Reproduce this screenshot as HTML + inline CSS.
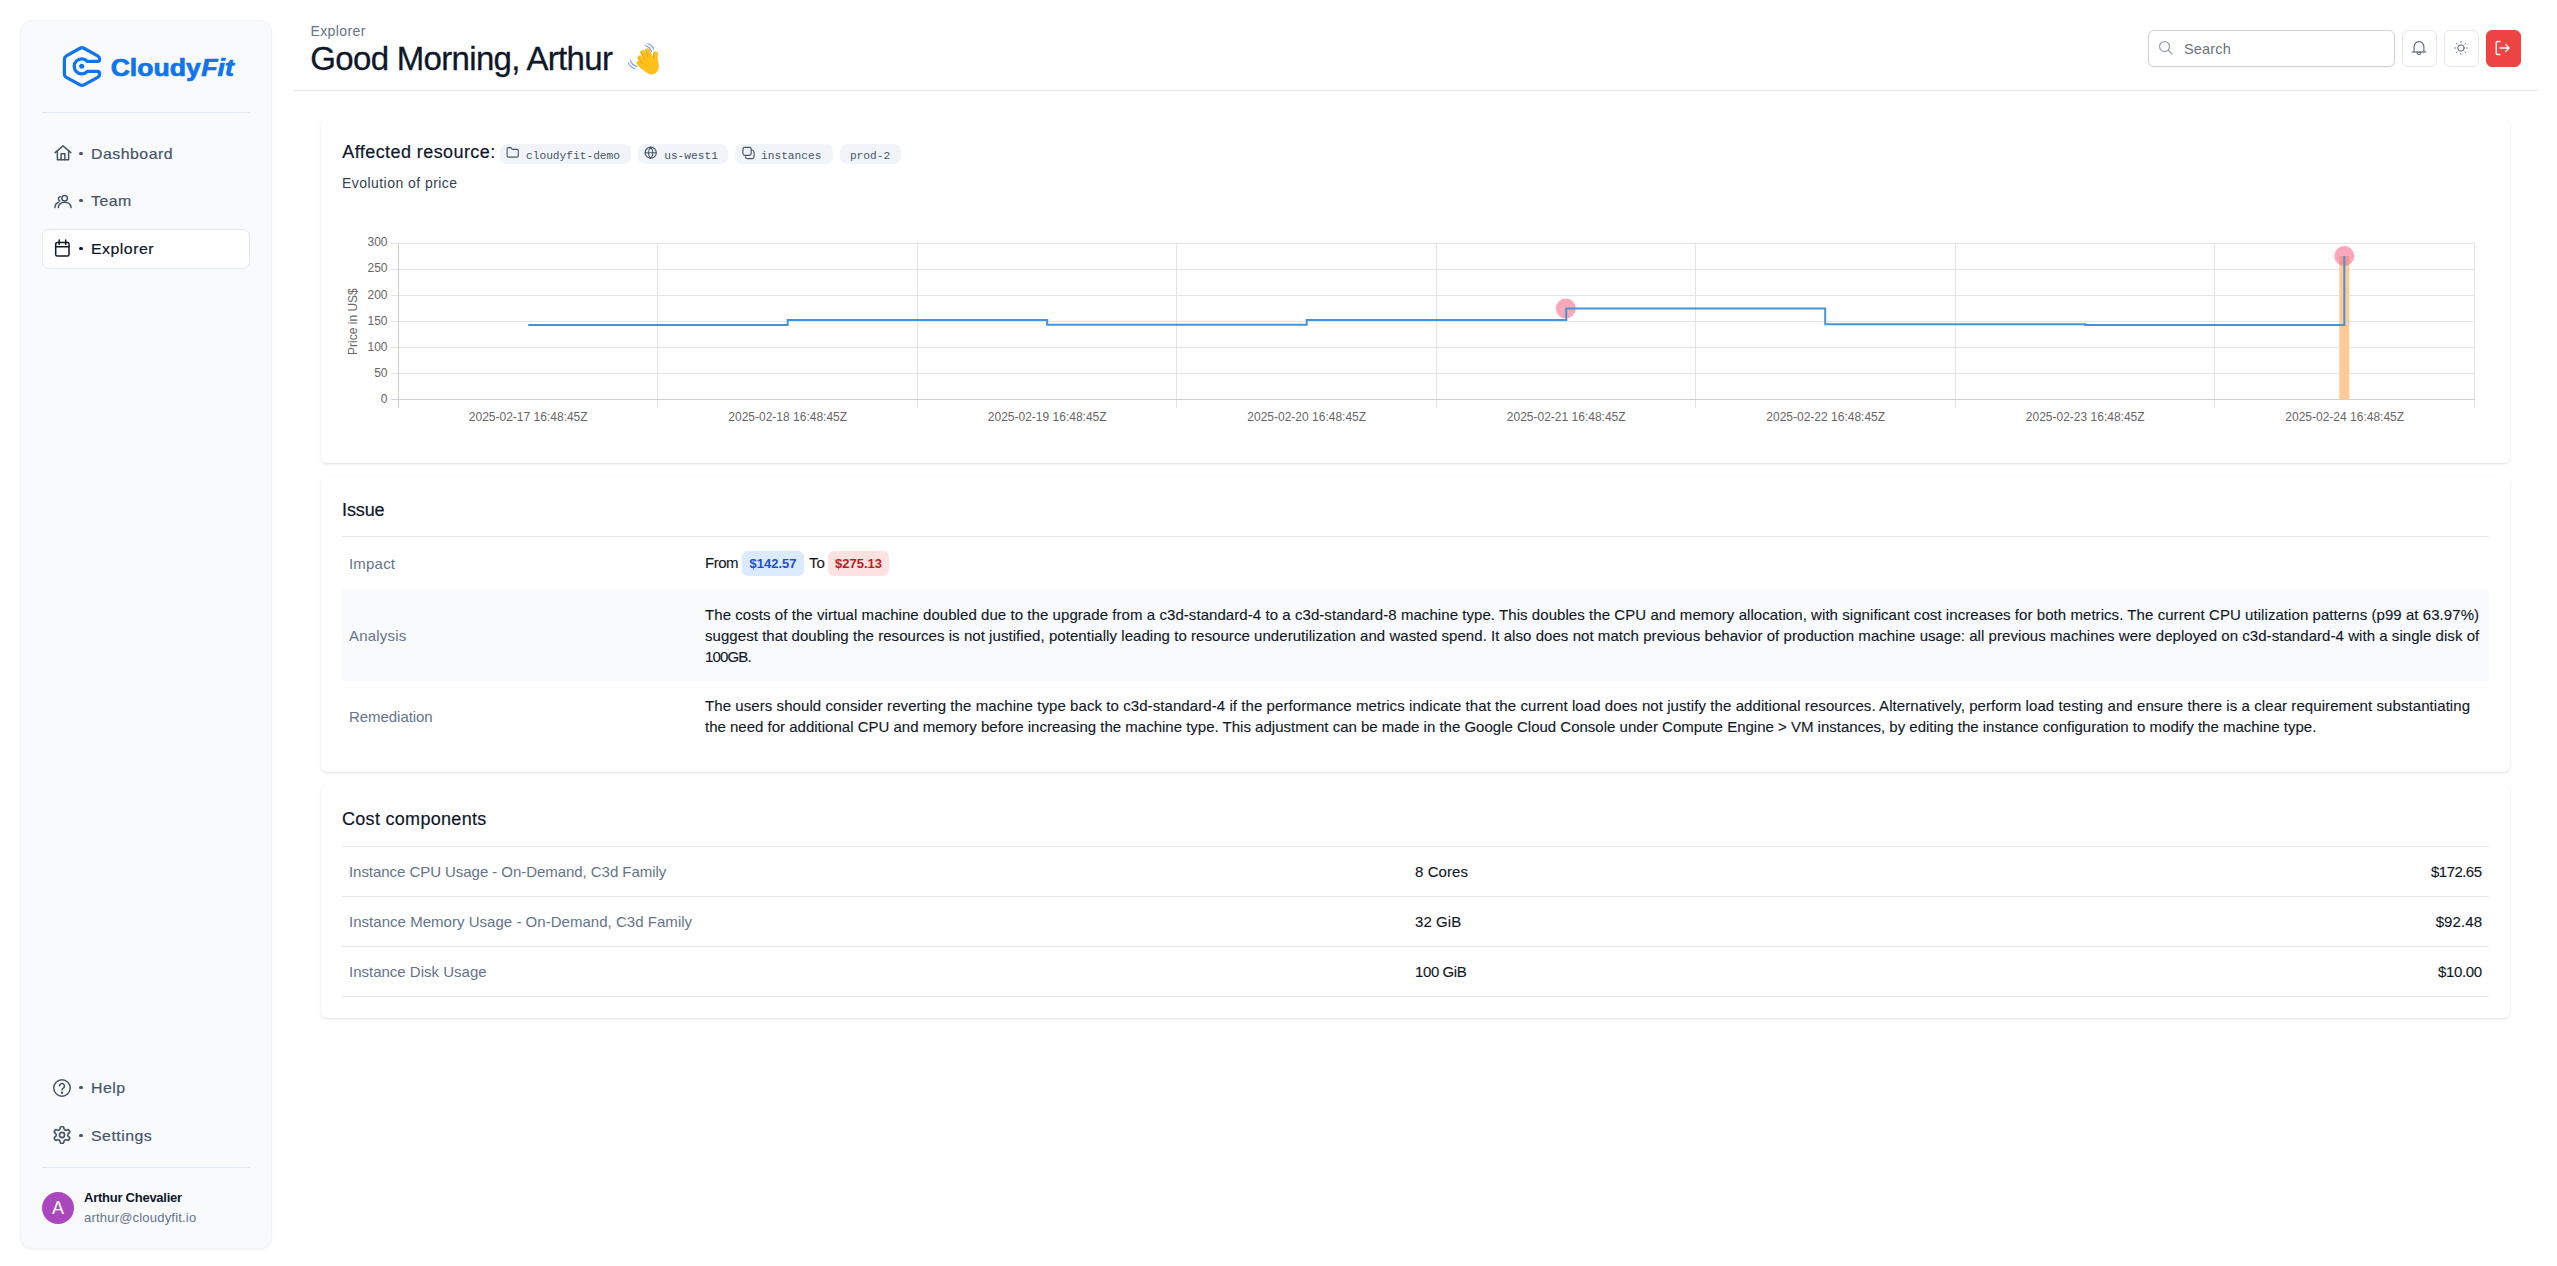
<!DOCTYPE html>
<html lang="en">
<head>
<meta charset="utf-8">
<title>CloudyFit - Explorer</title>
<style>
*{box-sizing:border-box;margin:0;padding:0}
html,body{width:2557px;height:1266px;overflow:hidden;background:#fff}
body{font-family:"Liberation Sans",Arial,sans-serif;color:#0f172a;position:relative;-webkit-font-smoothing:antialiased}
.abs{position:absolute;white-space:nowrap}
/* sidebar */
#side{position:absolute;left:20px;top:20px;width:252px;height:1229px;background:#f8fafc;border:1px solid #f1f5f9;border-radius:12px;box-shadow:0 1px 2px rgba(0,0,0,.04)}
.hr{position:absolute;height:1px;background:#e2e8f0}
.nav{position:absolute;left:42px;width:208px;height:40px;border-radius:7px;border:1px solid transparent;color:#475569;font-size:15px;letter-spacing:.45px}
.nav.on{background:#fff;border-color:#e2e8f0;color:#0f172a}
.nav svg{position:absolute;left:10.600px;top:9.500px;width:18px;height:18px}
.nav i{position:absolute;left:36.200px;top:16.700px;width:3.600px;height:3.600px;border-radius:50%;background:currentColor}
.nav span{position:absolute;left:48px;top:0;line-height:37px;display:inline-block;transform:scaleX(1.06);transform-origin:0 50%;-webkit-text-stroke:.2px currentColor}
/* header */
.ibtn{position:absolute;top:30px;width:35px;height:37px;border:1px solid #e5e7eb;border-radius:6px;background:#fff}
.ibtn svg{position:absolute;left:7.400px;top:8.300px;width:16px;height:16px}
/* cards */
.card{position:absolute;left:321px;width:2189px;background:#fff;border-radius:6px;box-shadow:0 1px 3px 0 rgba(0,0,0,.1),0 1px 2px -1px rgba(0,0,0,.1)}
.h2{font-size:18px;color:#0f172a;-webkit-text-stroke:.2px #0f172a}
.tag{position:absolute;top:144px;height:20px;border-radius:7px;background:#f1f5f9;color:#475569;font:11.200px/20px "Liberation Mono","DejaVu Sans Mono",monospace}
.tag svg{position:absolute;left:6px;top:2px;width:13.400px;height:13.400px}
.tag span{position:absolute;top:1.600px;white-space:nowrap}
.lbl{color:#64748b;font-size:15px;letter-spacing:.2px}
.txt{-webkit-text-stroke:.12px #111827;color:#111827;font-size:15px;line-height:21px;letter-spacing:.062px}
.pill{position:absolute;top:551px;height:25px;border-radius:6px;font-weight:bold;font-size:13px;line-height:25px;text-align:center}
</style>
</head>
<body>

<!-- ================= SIDEBAR ================= -->
<div id="side"></div>
<svg class="abs" style="left:56px;top:38px" width="190" height="56" viewBox="56 38 190 56">
  <path d="M87.31 61.37L97.40 61.37Q99.60 61.37 99.60 59.17L99.60 59.10Q99.60 56.90 97.67 55.84L83.93 48.26Q82.00 47.20 80.07 48.26L66.33 55.84Q64.40 56.90 64.40 59.10L64.40 74.10Q64.40 76.30 66.33 77.36L80.07 84.94Q82.00 86.00 83.93 84.94L97.67 77.36Q99.60 76.30 99.60 74.10L99.60 73.53Q99.60 71.33 97.40 71.33L87.31 71.33A7.5 7.5 0 1 1 87.31 61.37Z" fill="none" stroke="#1074ec" stroke-width="3.250" stroke-linejoin="round"/>
  <circle cx="81.700" cy="66.350" r="2.500" fill="#1074ec"/>
  <g font-family="Liberation Sans, Arial, sans-serif" font-weight="bold" font-size="23.200" fill="#1074ec" stroke="#1074ec" stroke-width=".7" stroke-linejoin="round">
    <text y="75.700"><tspan x="110.700" textLength="90" lengthAdjust="spacingAndGlyphs">Cloudy</tspan><tspan x="201.300" font-style="italic" textLength="32.600" lengthAdjust="spacingAndGlyphs">Fit</tspan></text>
  </g>
</svg>
<div class="hr" style="left:42px;top:112px;width:208px"></div>

<div class="nav" style="top:134px">
  <svg style="top:8.500px;left:10.900px" viewBox="0 0 24 24" fill="none" stroke="currentColor" stroke-width="2" stroke-linecap="round" stroke-linejoin="round"><path d="M1.5 11.5 12 2.5l10.500 9"/><path d="M4.500 9.500V21h15V9.500"/><path d="M9.500 21v-8h5v8"/></svg>
  <i></i><span>Dashboard</span>
</div>
<div class="nav" style="top:181px">
  <svg style="top:9.800px;left:11px" viewBox="0 0 24 24" fill="none" stroke="currentColor" stroke-width="2" stroke-linecap="round" stroke-linejoin="round"><circle cx="14.200" cy="8.200" r="3.700"/><path d="M5.800 20.800c0-4.300 3.600-7.300 8.400-7.300s8.500 3 8.500 7.300"/><path d="M8.300 6.300a3 3 0 0 0-.6 5.700"/><path d="M1.300 20.500c0-3.300 1.800-5.800 4.700-6.900"/></svg>
  <i></i><span>Team</span>
</div>
<div class="nav on" style="top:229px">
  <svg style="left:11px;top:8px;width:18px;height:20px" viewBox="0 0 18 20" fill="none" stroke="currentColor" stroke-width="1.500" stroke-linecap="round" stroke-linejoin="round"><rect x="1.700" y="4.400" width="13.300" height="13.650" rx="1.600"/><path d="M1.700 8.700h13.300M5.200 1.900v4.600M11.700 1.900v4.600"/></svg>
  <i></i><span>Explorer</span>
</div>

<div class="nav" style="top:1068px">
  <svg style="left:10.200px" viewBox="0 0 24 24" fill="none" stroke="currentColor" stroke-width="2" stroke-linecap="round" stroke-linejoin="round"><circle cx="12" cy="12" r="11"/><path d="M8.700 9.300a3.300 3.300 0 1 1 5 2.800c-1.100 .7-1.700 1.400-1.700 2.700"/><circle cx="12" cy="18.300" r=".7" fill="currentColor"/></svg>
  <i></i><span>Help</span>
</div>
<div class="nav" style="top:1116px">
  <svg style="left:10.300px;top:8.500px" viewBox="0 0 24 24" fill="none" stroke="currentColor" stroke-width="2" stroke-linecap="round" stroke-linejoin="round"><g transform="translate(12 12) scale(1.130) translate(-12 -12)"><path d="M12.220 2h-.440a2 2 0 0 0-2 2v.180a2 2 0 0 1-1 1.730l-.430.250a2 2 0 0 1-2 0l-.150-.080a2 2 0 0 0-2.730.730l-.220.380a2 2 0 0 0 .730 2.730l.150.100a2 2 0 0 1 1 1.720v.510a2 2 0 0 1-1 1.740l-.150.090a2 2 0 0 0-.730 2.730l.220.380a2 2 0 0 0 2.730.730l.150-.080a2 2 0 0 1 2 0l.430.250a2 2 0 0 1 1 1.730V20a2 2 0 0 0 2 2h.440a2 2 0 0 0 2-2v-.180a2 2 0 0 1 1-1.730l.430-.250a2 2 0 0 1 2 0l.150.080a2 2 0 0 0 2.730-.730l.220-.390a2 2 0 0 0-.730-2.730l-.150-.080a2 2 0 0 1-1-1.740v-.500a2 2 0 0 1 1-1.740l.150-.090a2 2 0 0 0 .730-2.730l-.220-.380a2 2 0 0 0-2.730-.730l-.150.080a2 2 0 0 1-2 0l-.430-.250a2 2 0 0 1-1-1.730V4a2 2 0 0 0-2-2z"/><circle cx="12" cy="12" r="3"/></g></svg>
  <i></i><span>Settings</span>
</div>
<div class="hr" style="left:42px;top:1167px;width:208px"></div>
<div class="abs" style="left:42px;top:1192px;width:32px;height:32px;border-radius:50%;background:#ab47bc;color:#fff;font-size:18px;line-height:33px;text-align:center">A</div>
<div class="abs" style="left:84px;top:1190px;font-size:13px;font-weight:bold;line-height:16px;color:#0f172a;letter-spacing:-.25px">Arthur Chevalier</div>
<div class="abs" style="left:84px;top:1210px;font-size:13px;line-height:16px;color:#64748b;letter-spacing:.2px">arthur@cloudyfit.io</div>

<!-- ================= HEADER ================= -->
<div class="abs" style="left:310.500px;top:23px;font-size:14px;line-height:16px;color:#64748b;letter-spacing:.38px">Explorer</div>
<h1 class="abs" style="left:310.300px;top:40px;font-size:33px;line-height:38px;font-weight:normal;color:#0f172a;letter-spacing:-.68px;-webkit-text-stroke:.3px #0f172a">Good Morning, Arthur</h1>
<svg class="abs" style="left:620px;top:36px" width="50" height="44" viewBox="0 0 1439 1266" role="img" aria-label="👋 waving hand">
  <g fill="none" stroke="#fcc21b" stroke-linecap="round">
    <path d="M885 650L795 425" stroke-width="135"/>
    <path d="M780 690L655 475" stroke-width="135"/>
    <path d="M700 790L570 625" stroke-width="130"/>
    <path d="M650 890L535 770" stroke-width="125"/>
    <path d="M1015 720L1028 505" stroke-width="130"/>
  </g>
  <path d="M470 760C560 700 800 560 960 600C1060 620 1100 700 1115 800C1135 930 1090 1040 1000 1085C920 1125 830 1100 760 1050C660 980 540 880 470 760Z" fill="#fcc21b"/>
  <g fill="none" stroke="#e59a10" stroke-width="24" stroke-linecap="round">
    <path d="M735 385L802 600"/><path d="M592 450L702 668"/><path d="M515 618L652 792"/><path d="M968 490L962 625"/>
  </g>
  <g fill="none" stroke="#7f9df0" stroke-width="32" stroke-linecap="round">
    <path d="M795 218Q935 265 972 385"/><path d="M725 272Q865 315 905 442"/>
    <path d="M300 705Q345 835 483 875"/><path d="M240 772Q285 895 422 938"/>
  </g>
</svg>
<div class="hr" style="left:293px;top:90px;width:2245px;background:#e5e7eb"></div>

<div class="abs" style="left:2148px;top:30px;width:247px;height:37px;border:1px solid #cdd2da;border-radius:6px;background:#fff;box-shadow:0 1px 2px rgba(15,23,42,.05)">
  <svg style="position:absolute;left:9.200px;top:9px;width:15px;height:15px" viewBox="0 0 24 24" fill="none" stroke="#9aa1ad" stroke-width="2.100" stroke-linecap="round"><circle cx="10.500" cy="10.500" r="8"/><path d="m16.500 16.500 6 6"/></svg>
  <span style="position:absolute;left:35px;top:0;line-height:36.800px;font-size:14.500px;color:#6b7280;letter-spacing:.15px">Search</span>
</div>
<div class="ibtn" style="left:2402px">
  <svg style="left:8.200px;top:8.950px" viewBox="0 0 24 24" fill="none" stroke="#55606f" stroke-width="1.600" stroke-linecap="round" stroke-linejoin="round"><path d="M4.650 18V9.800a7.350 7.350 0 0 1 14.700 0V18"/><path d="M1.750 18h20.500"/><path d="M8.900 19a3.100 3.100 0 0 0 6.200 0z" stroke-width="1.400"/></svg>
</div>
<div class="ibtn" style="left:2444px">
  <svg style="left:8.400px;top:8.950px" viewBox="0 0 24 24" fill="none" stroke="#55606f" stroke-width="1.600" stroke-linecap="round"><g transform="translate(12 12) scale(.93) translate(-12 -12)"><circle cx="12" cy="12" r="5.200"/><path d="M12 1.800v1M12 21.200v1M1.800 12h1M21.200 12h1M4.800 4.800l.7.7M18.500 18.500l.7.7M4.800 19.200l.7-.7M18.500 5.500l.7-.7"/></g></svg>
</div>
<div class="ibtn" style="left:2486px;background:#ef4444;border-color:#ef4444">
  <svg style="left:7px;top:8.700px" viewBox="0 0 24 24" fill="none" stroke="#fff" stroke-width="1.900" stroke-linecap="round" stroke-linejoin="round"><g transform="translate(12 12) scale(1.080) translate(-12 -12)"><path d="M9 3H5.500a1.500 1.500 0 0 0-1.500 1.500v15A1.500 1.500 0 0 0 5.500 21H9"/><path d="M9.500 12H22M17 7l5 5-5 5"/></g></svg>
</div>

<!-- ================= CARD 1 : chart ================= -->
<div class="card" style="top:119px;height:344px"></div>
<div class="abs h2" style="left:342.300px;top:141px;line-height:22px;letter-spacing:.42px">Affected resource:</div>
<div class="tag" style="left:500px;width:131px">
  <svg viewBox="0 0 24 24" fill="none" stroke="currentColor" stroke-width="2" stroke-linecap="round" stroke-linejoin="round"><path d="M20 20a2 2 0 0 0 2-2V8a2 2 0 0 0-2-2h-7.900a2 2 0 0 1-1.690-.9L9.600 3.900A2 2 0 0 0 7.930 3H4a2 2 0 0 0-2 2v13a2 2 0 0 0 2 2Z"/></svg>
  <span style="left:26px">cloudyfit-demo</span>
</div>
<div class="tag" style="left:638.200px;width:89.600px">
  <svg viewBox="0 0 24 24" fill="none" stroke="currentColor" stroke-width="2" stroke-linecap="round" stroke-linejoin="round"><circle cx="12" cy="12" r="10"/><path d="M12 2a14.500 14.500 0 0 0 0 20 14.500 14.500 0 0 0 0-20"/><path d="M2 12h20"/></svg>
  <span style="left:26px">us-west1</span>
</div>
<div class="tag" style="left:735px;width:97.600px">
  <svg style="left:0;top:0;width:24px;height:20px" viewBox="0 0 24 20" fill="none" stroke="currentColor" stroke-width="1.150" stroke-linecap="round" stroke-linejoin="round"><rect x="7.950" y="3.300" width="8.250" height="8.100" rx="1.800"/><path d="M16.700 5.700Q19.100 6.400 19.100 8.500V12.800Q19.100 14.600 17.300 14.600H12.400Q10.600 14.600 10.400 12.700"/></svg>
  <span style="left:26px">instances</span>
</div>
<div class="tag" style="left:840px;width:60.700px">
  <span style="left:9.900px">prod-2</span>
</div>
<div class="abs" style="left:342px;top:174px;font-size:14px;line-height:18px;color:#334155;letter-spacing:.45px">Evolution of price</div>

<svg class="abs" style="left:330px;top:225px" width="2170" height="215" viewBox="330 225 2170 215" font-family="Liberation Sans, Arial, sans-serif" font-size="12" fill="#666">
  <g stroke="#e5e5e5" stroke-width="1" shape-rendering="crispEdges">
    <path d="M390.500 243.500H2474.500M390.500 269.500H2474.500M390.500 295.500H2474.500M390.500 321.500H2474.500M390.500 347.500H2474.500M390.500 373.500H2474.500"/>
    <path d="M657.500 243V408M917.500 243V408M1176.500 243V408M1436.500 243V408M1695.500 243V408M1955.500 243V408M2214.500 243V408M2474.500 243V408"/>
  </g>
  <path d="M390.500 399.500H2474.500M398.500 243V408" stroke="#cfcfcf" stroke-width="1" shape-rendering="crispEdges"/>
  <rect x="2339.300" y="256" width="10" height="143.500" fill="#fdca98"/>
  <circle cx="1565.800" cy="308.500" r="10" fill="rgba(245,110,140,.6)"/>
  <circle cx="2344.300" cy="256" r="10" fill="rgba(245,110,140,.6)"/>
  <path d="M528.200 325.100H787.700V320H1047.200V324.800H1306.700V320H1566.200V308.500H1825.200V324.300H2085.200V325.100H2344.300V256" fill="none" stroke="#4694d6" stroke-width="2"/>
  <g text-anchor="end">
    <text x="387.500" y="246.300">300</text><text x="387.500" y="272.400">250</text><text x="387.500" y="298.500">200</text><text x="387.500" y="324.600">150</text><text x="387.500" y="350.600">100</text><text x="387.500" y="376.700">50</text><text x="387.500" y="402.800">0</text>
  </g>
  <g text-anchor="middle">
    <text x="528.200" y="421.300">2025-02-17 16:48:45Z</text><text x="787.700" y="421.300">2025-02-18 16:48:45Z</text><text x="1047.200" y="421.300">2025-02-19 16:48:45Z</text><text x="1306.700" y="421.300">2025-02-20 16:48:45Z</text><text x="1566.200" y="421.300">2025-02-21 16:48:45Z</text><text x="1825.700" y="421.300">2025-02-22 16:48:45Z</text><text x="2085.200" y="421.300">2025-02-23 16:48:45Z</text><text x="2344.700" y="421.300">2025-02-24 16:48:45Z</text>
  </g>
  <text transform="translate(356.600 321.600) rotate(-90)" text-anchor="middle">Price in US$</text>
</svg>

<!-- ================= CARD 2 : issue ================= -->
<div class="card" style="top:477px;height:295px"></div>
<div class="abs h2" style="left:342px;top:499px;line-height:22px;letter-spacing:-.1px">Issue</div>
<div class="hr" style="background:#e5e7eb;left:342px;top:536px;width:2147px"></div>
<div class="abs lbl" style="left:349px;top:555px;line-height:18px">Impact</div>
<div class="abs txt" style="left:705px;top:552px;line-height:21px;letter-spacing:-.5px">From</div>
<div class="pill" style="left:742px;width:62px;background:#dbeafe;color:#1f4fcf">$142.57</div>
<div class="abs txt" style="left:809px;top:552px;line-height:21px">To</div>
<div class="pill" style="left:828px;width:61px;background:#fee2e2;color:#b91c1c">$275.13</div>

<div class="abs" style="left:342px;top:590px;width:2147px;height:91px;background:#f8fafc"></div>
<div class="abs lbl" style="left:349px;top:627px;line-height:18px">Analysis</div>
<div class="abs txt" style="left:705px;top:604px"><span style="letter-spacing:.062px">The costs of the virtual machine doubled due to the upgrade from a c3d-standard-4 to a c3d-standard-8 machine type. This doubles the CPU and memory allocation, with significant cost increases for both metrics. The current CPU utilization patterns (p99 at 63.97%)</span><br><span style="letter-spacing:.053px">suggest that doubling the resources is not justified, potentially leading to resource underutilization and wasted spend. It also does not match previous behavior of production machine usage: all previous machines were deployed on c3d-standard-4 with a single disk of</span><br><span style="letter-spacing:-.85px">100GB.</span></div>
<div class="abs lbl" style="left:349px;top:708px;line-height:18px;letter-spacing:-.05px">Remediation</div>
<div class="abs txt" style="left:705px;top:695px"><span style="letter-spacing:.076px">The users should consider reverting the machine type back to c3d-standard-4 if the performance metrics indicate that the current load does not justify the additional resources. Alternatively, perform load testing and ensure there is a clear requirement substantiating</span><br><span style="letter-spacing:.001px">the need for additional CPU and memory before increasing the machine type. This adjustment can be made in the Google Cloud Console under Compute Engine &gt; VM instances, by editing the instance configuration to modify the machine type.</span></div>

<!-- ================= CARD 3 : cost components ================= -->
<div class="card" style="top:786px;height:232px"></div>
<div class="abs h2" style="left:342px;top:808px;line-height:22px;letter-spacing:.3px">Cost components</div>
<div class="hr" style="background:#e5e7eb;left:342px;top:846px;width:2147px"></div>
<div class="hr" style="background:#e5e7eb;left:342px;top:896px;width:2147px"></div>
<div class="hr" style="background:#e5e7eb;left:342px;top:946px;width:2147px"></div>
<div class="hr" style="background:#e5e7eb;left:342px;top:996px;width:2147px"></div>

<div class="abs lbl" style="left:349px;top:863px;line-height:18px;letter-spacing:-.05px">Instance CPU Usage - On-Demand, C3d Family</div>
<div class="abs txt" style="left:1415px;top:861px">8 Cores</div>
<div class="abs txt" style="right:75.550px;top:861px;letter-spacing:-.55px">$172.65</div>

<div class="abs lbl" style="left:349px;top:913px;line-height:18px;letter-spacing:.03px">Instance Memory Usage - On-Demand, C3d Family</div>
<div class="abs txt" style="left:1415px;top:911px">32 GiB</div>
<div class="abs txt" style="right:74.900px;top:911px;letter-spacing:.1px">$92.48</div>

<div class="abs lbl" style="left:349px;top:963px;line-height:18px;letter-spacing:0">Instance Disk Usage</div>
<div class="abs txt" style="left:1415px;top:961px;letter-spacing:-.4px">100 GiB</div>
<div class="abs txt" style="right:75.380px;top:961px;letter-spacing:-.38px">$10.00</div>

</body>
</html>
